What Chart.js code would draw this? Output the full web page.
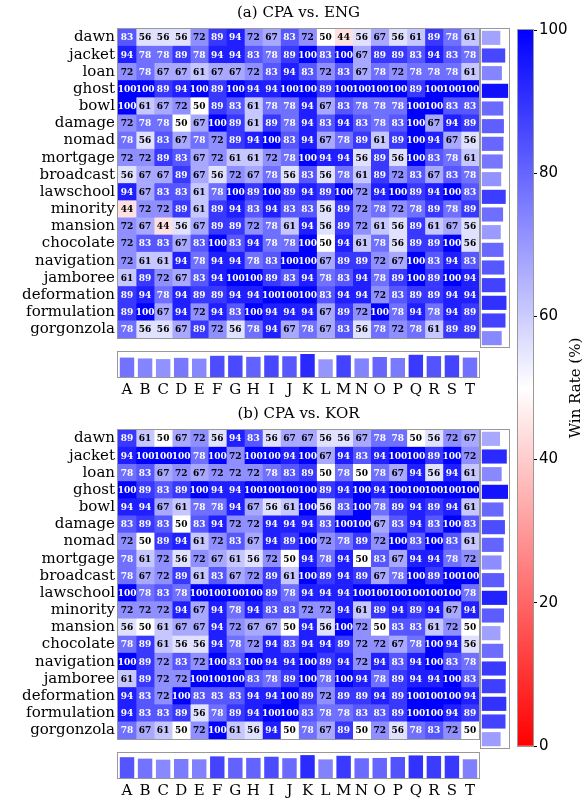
<!DOCTYPE html>
<html>
<head>
<meta charset="utf-8">
<script src="https://cdn.jsdelivr.net/npm/chart.js@4.4.0/dist/chart.umd.min.js"></script>
<style>
  html, body { margin: 0; padding: 0; background: #fff; }
  #wrap { position: relative; width: 587px; height: 798px; overflow: hidden; }
  #wrap canvas { position: absolute; }
</style>
</head>
<body>
<div id="wrap">
  <canvas id="heatA" width="480" height="350" style="left:0;top:0"></canvas>
  <canvas id="rowA" width="32" height="350" style="left:480px;top:0"></canvas>
  <canvas id="colA" width="480" height="60" style="left:0;top:340px"></canvas>
  <canvas id="heatB" width="480" height="350" style="left:0;top:401px"></canvas>
  <canvas id="rowB" width="32" height="350" style="left:480px;top:401px"></canvas>
  <canvas id="colB" width="480" height="60" style="left:0;top:741px"></canvas>
  <canvas id="cbar" width="82" height="798" style="left:505px;top:0"></canvas>
</div>
<script>
var rowNames = ['dawn', 'jacket', 'loan', 'ghost', 'bowl', 'damage', 'nomad', 'mortgage', 'broadcast',
  'lawschool', 'minority', 'mansion', 'chocolate', 'navigation', 'jamboree', 'deformation',
  'formulation', 'gorgonzola'];
var colNames = ['A', 'B', 'C', 'D', 'E', 'F', 'G', 'H', 'I', 'J', 'K', 'L', 'M', 'N', 'O', 'P', 'Q', 'R', 'S', 'T'];
var cbarTicks = [0, 20, 40, 60, 80, 100];

// (a) CPA vs. ENG, win rate per word (rows) and opponent (columns)
var engRates = [
  [83, 56, 56, 56, 72, 89, 94, 72, 67, 83, 72, 50, 44, 56, 67, 56, 61, 89, 78, 61],
  [94, 78, 78, 89, 78, 94, 94, 83, 78, 89, 100, 83, 100, 67, 89, 89, 83, 94, 83, 78],
  [72, 78, 67, 67, 61, 67, 67, 72, 83, 94, 83, 72, 83, 67, 78, 72, 78, 78, 78, 61],
  [100, 100, 89, 94, 100, 89, 100, 94, 94, 100, 100, 89, 100, 100, 100, 100, 89, 100, 100, 100],
  [100, 61, 67, 72, 50, 89, 83, 61, 78, 78, 94, 67, 83, 78, 78, 78, 100, 100, 83, 83],
  [72, 78, 78, 50, 67, 100, 89, 61, 89, 78, 94, 83, 94, 83, 78, 83, 100, 67, 94, 89],
  [78, 56, 83, 67, 78, 72, 89, 94, 100, 83, 94, 67, 78, 89, 61, 89, 100, 94, 67, 56],
  [72, 72, 89, 83, 67, 72, 61, 61, 72, 78, 100, 94, 94, 56, 89, 56, 100, 83, 78, 61],
  [56, 67, 67, 89, 67, 56, 72, 67, 78, 56, 83, 56, 78, 61, 89, 72, 83, 67, 83, 78],
  [94, 67, 83, 83, 61, 78, 100, 89, 100, 89, 94, 89, 100, 72, 94, 100, 89, 94, 100, 83],
  [44, 72, 72, 89, 61, 89, 94, 83, 94, 83, 83, 56, 89, 72, 78, 72, 78, 89, 78, 89],
  [72, 67, 44, 56, 67, 89, 89, 72, 78, 61, 94, 56, 89, 72, 61, 56, 89, 61, 67, 56],
  [72, 83, 83, 67, 83, 100, 83, 94, 78, 78, 100, 50, 94, 61, 78, 56, 89, 89, 100, 56],
  [72, 61, 61, 94, 78, 94, 94, 78, 83, 100, 100, 67, 89, 89, 72, 67, 100, 83, 94, 83],
  [61, 89, 72, 67, 83, 94, 100, 100, 89, 83, 94, 78, 83, 94, 78, 89, 100, 89, 100, 94],
  [89, 94, 78, 94, 89, 89, 94, 94, 100, 100, 100, 83, 94, 94, 72, 83, 89, 89, 94, 94],
  [89, 100, 67, 94, 72, 94, 83, 100, 94, 94, 94, 67, 89, 72, 100, 78, 94, 78, 94, 89],
  [78, 56, 56, 67, 89, 72, 56, 78, 94, 67, 78, 67, 83, 56, 78, 72, 78, 61, 89, 89]
];

// (b) CPA vs. KOR
var korRates = [
  [89, 61, 50, 67, 72, 56, 94, 83, 56, 67, 67, 56, 56, 67, 78, 78, 50, 56, 72, 67],
  [94, 100, 100, 100, 78, 100, 72, 100, 100, 94, 100, 67, 94, 83, 94, 100, 100, 89, 100, 72],
  [78, 83, 67, 72, 67, 72, 72, 72, 78, 83, 89, 50, 78, 50, 78, 67, 94, 56, 94, 61],
  [100, 89, 83, 89, 100, 94, 94, 100, 100, 100, 100, 89, 94, 100, 94, 100, 100, 100, 100, 100],
  [94, 94, 67, 61, 78, 78, 94, 67, 56, 61, 100, 56, 83, 100, 78, 89, 94, 89, 94, 61],
  [83, 89, 83, 50, 83, 94, 72, 72, 94, 94, 94, 83, 100, 100, 67, 83, 94, 83, 100, 83],
  [72, 50, 89, 94, 61, 72, 83, 67, 94, 89, 100, 72, 78, 89, 72, 100, 83, 100, 83, 61],
  [78, 61, 72, 56, 72, 67, 61, 56, 72, 50, 94, 78, 94, 50, 83, 67, 94, 94, 78, 72],
  [78, 67, 72, 89, 61, 83, 67, 72, 89, 61, 100, 89, 94, 89, 67, 78, 100, 89, 100, 100],
  [100, 78, 83, 78, 100, 100, 100, 100, 89, 78, 94, 94, 94, 100, 100, 100, 100, 100, 100, 78],
  [72, 72, 72, 94, 67, 94, 78, 94, 83, 83, 72, 72, 94, 61, 89, 94, 89, 94, 67, 94],
  [56, 50, 61, 67, 67, 94, 72, 67, 67, 50, 94, 56, 100, 72, 50, 83, 83, 61, 72, 50],
  [78, 89, 61, 56, 56, 94, 78, 72, 94, 83, 94, 94, 89, 72, 72, 67, 78, 100, 94, 56],
  [100, 89, 72, 83, 72, 100, 83, 100, 94, 94, 100, 89, 94, 72, 94, 83, 94, 100, 83, 78],
  [61, 89, 72, 72, 100, 100, 100, 83, 78, 89, 100, 78, 100, 94, 78, 89, 94, 94, 100, 83],
  [94, 83, 72, 100, 83, 83, 83, 94, 94, 100, 89, 72, 89, 89, 94, 89, 100, 100, 100, 94],
  [94, 83, 83, 89, 56, 78, 89, 94, 100, 100, 83, 78, 78, 83, 83, 89, 100, 100, 94, 89],
  [78, 67, 61, 50, 72, 100, 61, 56, 94, 50, 78, 67, 89, 50, 72, 56, 78, 83, 72, 50]
];

var serif = '"DejaVu Serif", serif';
var frameColor = '#999';
Chart.defaults.font.family = serif;
Chart.defaults.animation = false;

/* red (0) -> white (50) -> blue (100) */
function rateColor(v) {
  var t = v / 100, k;
  if (t < 0.5) {
    k = Math.round(255 * t / 0.5);
    return 'rgb(255,' + k + ',' + k + ')';
  }
  k = Math.round(255 * (1 - (t - 0.5) / 0.5));
  return 'rgb(' + k + ',' + k + ',255)';
}

function mean(arr) {
  return arr.reduce(function(s, v) { return s + v; }, 0) / arr.length;
}

var framePlugin = {
  id: 'frame',
  afterDraw: function(chart) {
    var a = chart.chartArea, c = chart.ctx;
    c.save();
    c.strokeStyle = frameColor;
    c.lineWidth = 1;
    c.strokeRect(a.left - 0.5, a.top - 0.5, a.width + 1, a.height + 1);
    c.restore();
  }
};

var cellLabels = {
  id: 'cellLabels',
  afterDatasetsDraw: function(chart, args, opts) {
    var c = chart.ctx;
    c.save();
    c.font = 'bold 9px ' + serif;
    c.textAlign = 'center';
    c.textBaseline = 'middle';
    chart.data.datasets.forEach(function(ds, i) {
      chart.getDatasetMeta(i).data.forEach(function(bar, r) {
        var v = ds.rates[r];
        c.fillStyle = v >= 75 ? '#fff' : '#000';
        c.fillText(String(v), (bar.x + bar.base) / 2, bar.y + 0.5);
      });
    });
    var a = chart.chartArea;
    c.font = '15px ' + serif;
    c.fillStyle = '#000';
    c.fillText(opts.title, (a.left + a.right) / 2, 13);
    c.restore();
  }
};

function heatChart(id, title, rates) {
  var datasets = colNames.map(function(col, ci) {
    return {
      label: col,
      data: rates.map(function() { return 1; }),
      rates: rates.map(function(row) { return row[ci]; }),
      backgroundColor: rates.map(function(row) { return rateColor(row[ci]); }),
      borderWidth: 0,
      barPercentage: 1,
      categoryPercentage: 1
    };
  });
  return new Chart(document.getElementById(id), {
    type: 'bar',
    data: { labels: rowNames, datasets: datasets },
    options: {
      indexAxis: 'y',
      responsive: false,
      layout: { padding: { left: 0, right: 1, top: 29, bottom: 3 } },
      plugins: {
        legend: { display: false },
        tooltip: { enabled: false },
        cellLabels: { title: title }
      },
      scales: {
        x: { type: 'linear', stacked: true, min: 0, max: colNames.length, display: false },
        y: {
          stacked: true,
          grid: { display: false, drawTicks: false },
          border: { display: false },
          ticks: { font: { size: 15, family: serif }, color: '#000', padding: 3, autoSkip: false },
          afterFit: function(scale) { scale.width = 118; }
        }
      }
    },
    plugins: [cellLabels, framePlugin]
  });
}

function rowBarChart(id, rates) {
  var means = rates.map(mean);
  return new Chart(document.getElementById(id), {
    type: 'bar',
    data: {
      labels: rowNames,
      datasets: [{
        data: means,
        backgroundColor: means.map(rateColor),
        borderWidth: 0,
        barPercentage: 0.8,
        categoryPercentage: 1
      }]
    },
    options: {
      indexAxis: 'y',
      responsive: false,
      layout: { padding: { left: 1, right: 3, top: 29, bottom: 3 } },
      plugins: { legend: { display: false }, tooltip: { enabled: false } },
      scales: {
        x: { display: false, min: -3, max: 100 },
        y: { display: false }
      }
    },
    plugins: [framePlugin]
  });
}

function colBarChart(id, rates) {
  var means = colNames.map(function(col, ci) {
    return mean(rates.map(function(row) { return row[ci]; }));
  });
  return new Chart(document.getElementById(id), {
    type: 'bar',
    data: {
      labels: colNames,
      datasets: [{
        data: means,
        backgroundColor: means.map(rateColor),
        borderWidth: 0,
        barPercentage: 0.8,
        categoryPercentage: 1
      }]
    },
    options: {
      responsive: false,
      layout: { padding: { left: 118, right: 1, top: 12, bottom: 0 } },
      plugins: { legend: { display: false }, tooltip: { enabled: false } },
      scales: {
        x: {
          grid: { display: false, drawTicks: false },
          border: { display: false },
          ticks: { font: { size: 15, family: serif }, color: '#000', padding: 4, maxRotation: 0, autoSkip: false },
          afterFit: function(scale) { scale.height = 23; }
        },
        y: { display: false, min: 0, max: 100 }
      }
    },
    plugins: [framePlugin]
  });
}

heatChart('heatA', '(a) CPA vs. ENG', engRates);
rowBarChart('rowA', engRates);
colBarChart('colA', engRates);
heatChart('heatB', '(b) CPA vs. KOR', korRates);
rowBarChart('rowB', korRates);
colBarChart('colB', korRates);

/* colour bar */
new Chart(document.getElementById('cbar'), {
  type: 'bar',
  data: {
    labels: [''],
    datasets: [{
      data: [[0, 100]],
      backgroundColor: function(ctx) {
        var a = ctx.chart.chartArea;
        if (!a) return '#fff';
        var g = ctx.chart.ctx.createLinearGradient(0, a.bottom, 0, a.top);
        g.addColorStop(0, rateColor(0));
        g.addColorStop(0.5, rateColor(50));
        g.addColorStop(1, rateColor(100));
        return g;
      },
      borderWidth: 0,
      barPercentage: 1,
      categoryPercentage: 1
    }]
  },
  options: {
    responsive: false,
    layout: { padding: { left: 13, right: 0, top: 30, bottom: 52 } },
    plugins: { legend: { display: false }, tooltip: { enabled: false } },
    scales: {
      x: { display: false },
      y: {
        position: 'right',
        min: 0,
        max: 100,
        grid: { drawOnChartArea: false, drawTicks: true, tickLength: 4, color: '#000' },
        border: { display: false },
        ticks: {
          font: { size: 15, family: '"DejaVu Sans", sans-serif' },
          color: '#000',
          padding: 2,
          stepSize: 20
        },
        afterBuildTicks: function(axis) {
          axis.ticks = cbarTicks.map(function(v) { return { value: v }; });
        },
        afterFit: function(scale) { scale.width = 54; }
      }
    }
  },
  plugins: [framePlugin, {
    id: 'cbarTitle',
    afterDraw: function(chart) {
      var c = chart.ctx, a = chart.chartArea;
      c.save();
      c.translate(71, (a.top + a.bottom) / 2);
      c.rotate(-Math.PI / 2);
      c.font = '15px ' + serif;
      c.fillStyle = '#000';
      c.textAlign = 'center';
      c.textBaseline = 'middle';
      c.fillText('Win Rate (%)', 0, 0);
      c.restore();
    }
  }]
});
</script>
</body>
</html>
